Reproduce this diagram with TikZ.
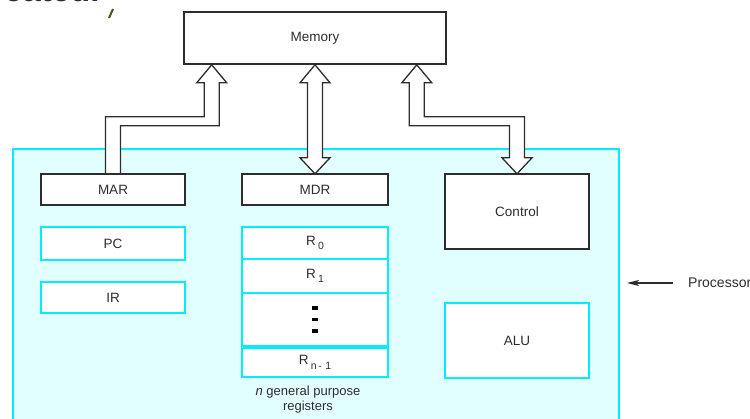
\documentclass[tikz,border=0pt]{standalone}
\usepackage{fontspec}
\setmainfont{Liberation Sans}
\usetikzlibrary{calc,arrows.meta}
\definecolor{procedge}{RGB}{0,238,250}
\definecolor{procfill}{RGB}{226,255,255}
\definecolor{ink}{RGB}{45,45,45}
\definecolor{olive}{RGB}{70,90,30}
\tikzset{
  lbl/.style={font=\fontsize{13.5}{16}\selectfont, text=ink},
  blackbox/.style={lbl, draw=ink, line width=1.6pt, fill=white, inner sep=0pt},
  cyanbox/.style={lbl, draw=procedge, line width=1.6pt, fill=white, inner sep=0pt},
  bus/.style={draw=ink, line width=1.3pt, fill=white, line join=miter},
}
\begin{document}
\begin{tikzpicture}[x=1pt,y=-1pt]
\clip (0,0) rectangle (750,419);
\fill[white] (0,0) rectangle (750,419);

% heading line cut at the top edge
\node[anchor=base west, inner sep=0pt, text=ink, font=\fontsize{33}{33}\selectfont\bfseries] (head) at (4,1.5) {cated.};
\draw[olive, line width=2pt] (113,9) -- (109,18);

% processor area
\node[draw=procedge, fill=procfill, line width=1.6pt, minimum width=606pt, minimum height=290pt, anchor=north west, inner sep=0pt] (proc) at (12,148) {};

% memory
\node[blackbox, minimum width=262pt, minimum height=52pt] (mem) at (315,38) {Memory};

% where the buses meet the memory
\coordinate (mt) at ($(mem.south west)+(28.5,0)$);
\coordinate (ct) at ($(mem.south east)+(-30,0)$);

% boxes that the buses reach (placed first so the buses can use their anchors)
\path
  node[minimum width=144pt, minimum height=31pt] (marpos) at (113,189.5) {}
  node[minimum width=146pt, minimum height=31pt] (mdrpos) at (315,189.5) {}
  node[minimum width=144pt, minimum height=75pt] (ctlpos) at (517,211.5) {};

% MAR -> memory (address bus)
\draw[bus] ($(marpos.north)+(-7.5,0)$) |- ($(mt)+(-7.5,52)$) -- ($(mt)+(-7.5,18)$)
  -- ($(mt)+(-15,18)$) -- (mt) -- ($(mt)+(15,18)$) -- ($(mt)+(7.5,18)$)
  -- ($(mt)+(7.5,61)$) -| ($(marpos.north)+(7.5,0)$) -- cycle;

% memory <-> MDR (data bus)
\draw[bus] (mem.south) -- ++(15,18) -- ++(-7.5,0) -- ($(mdrpos.north)+(7.5,-16)$)
  -- ++(7.5,0) -- (mdrpos.north) -- ++(-15,-16) -- ++(7.5,0)
  -- ($(mem.south)+(-7.5,18)$) -- ++(-7.5,0) -- cycle;

% memory <-> control
\draw[bus] (ct) -- ++(15,18) -- ++(-7.5,0) |- ($(ctlpos.north)+(7.5,-57)$)
  -- ($(ctlpos.north)+(7.5,-16)$) -- ++(7.5,0) -- (ctlpos.north) -- ++(-15,-16)
  -- ++(7.5,0) |- ($(ct)+(-7.5,61)$) -- ($(ct)+(-7.5,18)$) -- ++(-7.5,0) -- cycle;

% processor registers and units
\node[blackbox, minimum width=144pt, minimum height=31pt] (mar) at (marpos) {MAR};
\node[blackbox, minimum width=146pt, minimum height=31pt] (mdr) at (mdrpos) {MDR};
\node[blackbox, minimum width=144pt, minimum height=75pt] (ctl) at (ctlpos) {Control};

\node[cyanbox, minimum width=144pt, minimum height=33pt] (pc) at (113,243.5) {PC};
\node[cyanbox, minimum width=144pt, minimum height=31pt] (ir) at (113,297.5) {IR};

\node[cyanbox, minimum width=146pt, minimum height=32pt] (r0) at (315,243) {R\,\raisebox{-4pt}{\fontsize{10.5}{10}\selectfont 0}};
\node[cyanbox, minimum width=146pt, minimum height=34pt] (r1) at (315,276) {R\,\raisebox{-4pt}{\fontsize{10.5}{10}\selectfont 1}};
\node[cyanbox, minimum width=146pt, minimum height=53pt] (rdots) at (315,319.5) {};
\node[cyanbox, minimum width=146pt, minimum height=29pt] (rn) at (315,362.5) {R\,\raisebox{-5pt}{\fontsize{10.5}{10}\selectfont n\,-\,\,1}};
\foreach \dy in {-11.5,0,11.5}
  \fill[black] ($(rdots.center)+(-3,\dy-1.6)$) rectangle ($(rdots.center)+(3,\dy+1.6)$);

\node[lbl, align=center, font=\fontsize{13}{15}\selectfont, inner sep=0pt] (gpr) at (308,399.5) {\textit{n} general purpose\\registers};

\node[cyanbox, minimum width=144pt, minimum height=75pt] (alu) at (517,340.5) {ALU};

% processor label
\node[lbl, font=\fontsize{14}{16}\selectfont, anchor=west, inner sep=0pt] (plabel) at (688,283) {Processor};
\draw[ink, line width=1.4pt, -{Stealth[length=12pt,width=6pt,inset=3pt]}] ($(plabel.west)+(-15,0)$) -- ($(plabel.west)+(-61,0)$);
\end{tikzpicture}
\end{document}
